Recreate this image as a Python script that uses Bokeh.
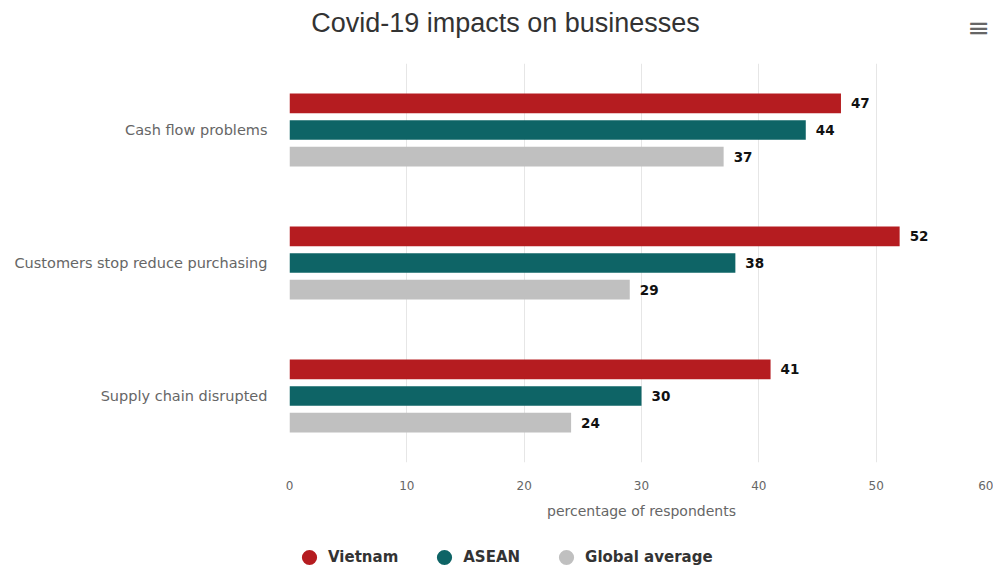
from bokeh.plotting import figure
from bokeh.models import (FactorRange, ColumnDataSource, Legend, LegendItem,
                          FixedTicker, Label)
from bokeh.layouts import column
from bokeh.transform import dodge
from bokeh.core.properties import value
from bokeh.embed import file_html
from bokeh.resources import INLINE

categories = ["Cash flow problems", "Customers stop reduce purchasing", "Supply chain disrupted"]
series_names = ["Vietnam", "ASEAN", "Global average"]
vietnam = [47, 52, 41]
asean = [44, 38, 30]
global_avg = [37, 29, 24]
x_ticks = [0, 10, 20, 30, 40, 50, 60]
colors = ["#b51c20", "#0e6466", "#c0c0c0"]

title_text = "Covid-19 impacts on businesses"
x_label = "percentage of respondents"

W = 993
FRAME_LEFT = 289  # frames of the stacked figures are aligned at this x

# ---- title strip -------------------------------------------------------
pt = figure(width=W, height=63, x_range=(0, 1), y_range=(0, 1),
            output_backend="svg", toolbar_location=None,
            x_axis_location=None, y_axis_location=None, min_border=0)
pt.outline_line_color = None
pt.grid.visible = False
pt.add_layout(Label(x=505 - FRAME_LEFT, y=41, x_units="screen", y_units="screen",
                    text=title_text,
                    text_font="Liberation Sans", text_font_size="27px",
                    text_color="#333333", text_align="center", text_baseline="middle"))
pt.add_layout(Label(x=978 - FRAME_LEFT, y=36, x_units="screen", y_units="screen",
                    text="\u2261",
                    text_font="DejaVu Sans", text_font_size="27px",
                    text_color="#666666", text_align="center", text_baseline="middle"))

# ---- main chart --------------------------------------------------------
y_factors = list(reversed(categories))
p = figure(width=W, height=470, y_range=FactorRange(factors=y_factors),
           x_range=(0, 60), output_backend="svg", toolbar_location=None,
           min_border_left=FRAME_LEFT, min_border_right=0, min_border_top=0,
           min_border_bottom=71)
p.outline_line_color = None

src = ColumnDataSource(dict(cat=categories, Vietnam=vietnam, ASEAN=asean,
                            Global=global_avg,
                            lv=[str(v) for v in vietnam],
                            la=[str(v) for v in asean],
                            lg=[str(v) for v in global_avg]))

offsets = [0.2, 0.0, -0.2]
fields = ["Vietnam", "ASEAN", "Global"]
lfields = ["lv", "la", "lg"]
for f, lf, off, c in zip(fields, lfields, offsets, colors):
    p.hbar(y=dodge("cat", off, range=p.y_range), right=f, left=0, height=0.148,
           source=src, fill_color=c, line_color=None)
    p.text(x=f, y=dodge("cat", off, range=p.y_range), text=lf, source=src,
           x_offset=10, text_align="left", text_baseline="middle",
           text_font=value("DejaVu Sans"), text_font_style="bold",
           text_font_size="13.5px", text_color="#111111")

p.xaxis.ticker = FixedTicker(ticks=x_ticks)
p.xaxis.axis_label = x_label
p.xaxis.axis_label_text_font = "DejaVu Sans"
p.xaxis.axis_label_text_font_style = "normal"
p.xaxis.axis_label_text_font_size = "14px"
p.xaxis.axis_label_text_color = "#666666"
p.xaxis.axis_label_standoff = 10
p.xaxis.major_label_text_font = "DejaVu Sans"
p.xaxis.major_label_text_font_size = "12px"
p.xaxis.major_label_text_color = "#666666"
p.xaxis.major_label_standoff = 18
p.xaxis.axis_line_color = None
p.xaxis.major_tick_line_color = None
p.xaxis.major_tick_out = 0
p.xaxis.minor_tick_line_color = None

p.yaxis.major_label_text_font = "DejaVu Sans"
p.yaxis.major_label_text_font_size = "14.5px"
p.yaxis.major_label_text_color = "#666666"
p.yaxis.major_label_standoff = 22
p.yaxis.axis_line_color = None
p.yaxis.major_tick_line_color = None
p.yaxis.major_tick_out = 0
p.yaxis.minor_tick_line_color = None

p.ygrid.grid_line_color = None
p.xgrid.grid_line_color = "#e6e6e6"
p.xgrid.grid_line_width = 1

# ---- legend strip ------------------------------------------------------
pl = figure(width=W, height=38, x_range=(0, 1), y_range=(0, 1),
            output_backend="svg", toolbar_location=None,
            x_axis_location=None, y_axis_location=None, min_border=0)
pl.outline_line_color = None
pl.grid.visible = False
items = []
for name, c in zip(series_names, colors):
    # placeholder renderer (NaN point, never drawn) that only supplies the legend glyph
    r = pl.scatter(x=[float("nan")], y=[float("nan")], marker="circle", size=15,
                   fill_color=c, line_color=None)
    items.append(LegendItem(label=name, renderers=[r]))
legend = Legend(items=items, orientation="horizontal", location=(1, -5),
                label_text_font="DejaVu Sans", label_text_font_style="bold",
                label_text_font_size="15px", label_text_color="#333333",
                glyph_width=38, glyph_height=38, label_standoff=-4, spacing=27,
                padding=0, margin=0, border_line_color=None,
                background_fill_alpha=0)
pl.add_layout(legend)

layout = column(pt, p, pl, spacing=0)
open("out.html", "w").write(file_html(layout, INLINE))
